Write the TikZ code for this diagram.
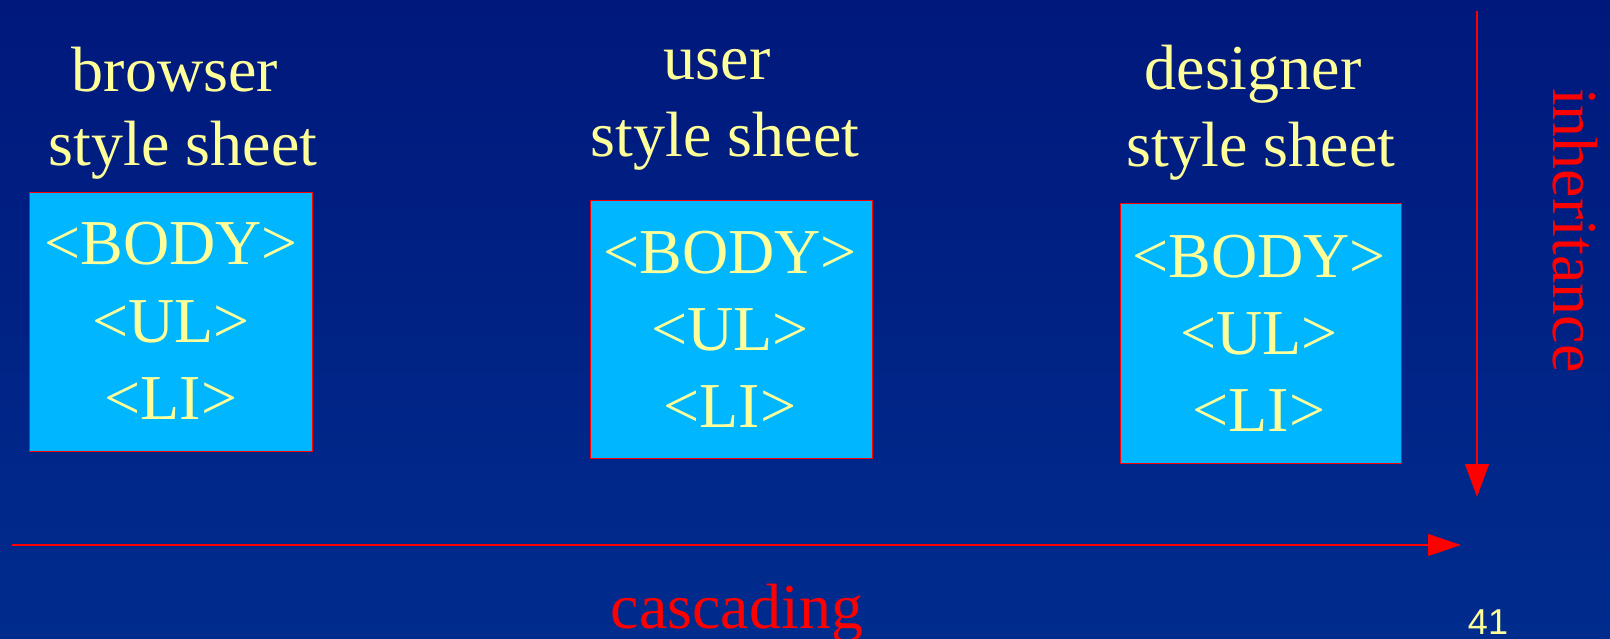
\documentclass[tikz,border=0pt]{standalone}
\usepackage{fontspec}
\setmainfont{Liberation Serif}
\newfontfamily\pagenumfont{Liberation Sans}
\usetikzlibrary{arrows.meta}
\definecolor{bgtop}{RGB}{0,24,124}
\definecolor{bgbot}{RGB}{0,44,142}
\definecolor{boxfill}{RGB}{0,183,255}
\definecolor{txtyellow}{RGB}{255,255,153}
\definecolor{arrred}{RGB}{255,0,0}
\tikzset{
  sheetbox/.style={draw=arrred, line width=1pt, fill=boxfill, rectangle, inner sep=0pt},
  bigtext/.style={font=\fontsize{64}{77}\selectfont, text=txtyellow, inner sep=0pt, anchor=base},
  redtext/.style={font=\fontsize{64}{77}\selectfont, text=arrred, inner sep=0pt, anchor=base},
  redarrow/.style={draw=arrred, line width=1.2pt, -{Triangle[length=33pt,width=24pt]}}
}
\begin{document}
\begin{tikzpicture}[x=1pt,y=-1pt]
\shade[top color=bgtop, bottom color=bgbot] (0,0) rectangle (1610,639);
\useasboundingbox (0,0) rectangle (1610,639);
% boxes
\node[sheetbox, minimum width=283pt, minimum height=258pt] (b1) at (170.5,322) {};
\node[sheetbox, minimum width=282pt, minimum height=257pt] (b2) at (731,329.5) {};
\node[sheetbox, minimum width=281pt, minimum height=259pt] (b3) at (1260.5,333.5) {};
% titles
\node[bigtext] (t1a) at (175,92) {browser};
\node[bigtext] (t1b) at (183,166) {style sheet};
\node[bigtext] (t2a) at (717,80) {user};
\node[bigtext] (t2b) at (725,157) {style sheet};
\node[bigtext] (t3a) at (1253,90) {designer};
\node[bigtext] (t3b) at (1261,167) {style sheet};
% box contents
\node[bigtext] (b1l1) at (171,265) {<BODY>};
\node[bigtext] (b1l2) at (171,342) {<UL>};
\node[bigtext] (b1l3) at (171,419) {<LI>};
\node[bigtext] (b2l1) at (730,273) {<BODY>};
\node[bigtext] (b2l2) at (730,350) {<UL>};
\node[bigtext] (b2l3) at (730,427) {<LI>};
\node[bigtext] (b3l1) at (1259,277) {<BODY>};
\node[bigtext] (b3l2) at (1259,354) {<UL>};
\node[bigtext] (b3l3) at (1259,431) {<LI>};
% arrows
\coordinate (vs) at (1477,11);
\coordinate (ve) at (1477,497);
\draw[redarrow] (vs) -- (ve);
\coordinate (hs) at (12,545);
\coordinate (he) at (1461,545);
\draw[redarrow, -{Triangle[length=33pt,width=22pt]}] (hs) -- (he);
% labels
\node[redtext, rotate=-90, anchor=base west] (inh) at (1553,88) {inheritance};
\node[redtext] (casc) at (737,628) {cascading};
\node[font=\pagenumfont\fontsize{36}{40}\selectfont, text=txtyellow, inner sep=0pt, anchor=base] (pn) at (1488,634) {41};
\end{tikzpicture}
\end{document}
